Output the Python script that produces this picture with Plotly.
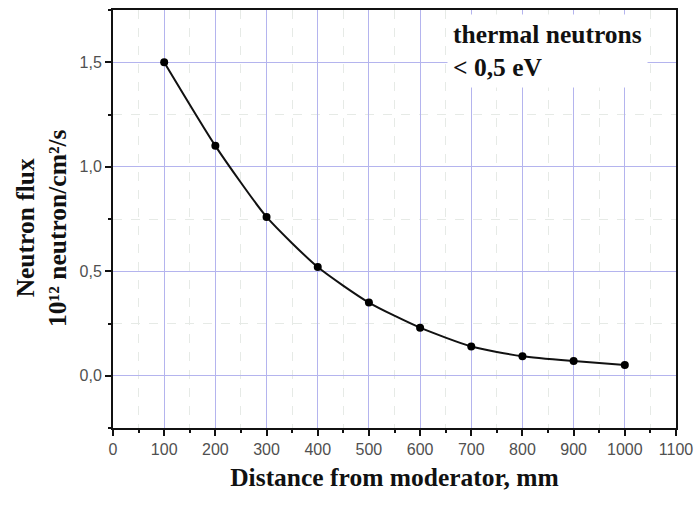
import plotly.graph_objects as go

# Thermal neutron flux versus distance from the moderator
distance_mm = [100, 200, 300, 400, 500, 600, 700, 800, 900, 1000]
flux_1e12 = [1.50, 1.10, 0.76, 0.52, 0.35, 0.23, 0.14, 0.093, 0.07, 0.052]

x_ticks = [0, 100, 200, 300, 400, 500, 600, 700, 800, 900, 1000, 1100]
y_ticks = [0.0, 0.5, 1.0, 1.5]
y_tick_text = ["0,0", "0,5", "1,0", "1,5"]

major_grid = "rgb(180,180,238)"
minor_grid = "rgb(230,234,230)"
serif = "Liberation Serif, Times New Roman, serif"
sans = "Liberation Sans, Arial, sans-serif"
label_size = 25.5

fig = go.Figure()
fig.add_trace(go.Scatter(
    x=distance_mm, y=flux_1e12,
    mode="lines+markers",
    line=dict(color="#111111", width=2, shape="spline", smoothing=0.6),
    marker=dict(color="black", size=8),
    showlegend=False,
))

axis_common = dict(
    automargin=False,
    showline=True, linecolor="#111111", linewidth=2, mirror=True,
    ticks="outside", ticklen=6, tickwidth=2, tickcolor="#111111",
    showgrid=True, gridcolor=major_grid, gridwidth=1,
    zeroline=False,
    tickfont=dict(family=sans, size=16, color="#505050"),
)

fig.update_xaxes(
    range=[0, 1100], tickvals=x_ticks, ticktext=[str(v) for v in x_ticks],
    minor=dict(dtick=50, tick0=0, ticks="outside", ticklen=3, tickwidth=2,
               tickcolor="#111111", showgrid=True, gridcolor=minor_grid,
               griddash="dash", gridwidth=1),
    title=dict(text="<b>Distance from moderator, mm</b>", standoff=11,
               font=dict(family=serif, size=label_size, color="#111111")),
    **axis_common,
)
fig.update_yaxes(
    range=[-0.25, 1.75], tickvals=y_ticks, ticktext=y_tick_text,
    minor=dict(dtick=0.25, tick0=0, ticks="outside", ticklen=3, tickwidth=2,
               tickcolor="#111111", showgrid=True, gridcolor=minor_grid,
               griddash="dash", gridwidth=1),
    **axis_common,
)

# Two-line rotated y-axis label
fig.add_annotation(
    text="<b>Neutron flux</b>", textangle=-90,
    xref="paper", yref="paper", x=-0.156, y=0.478,
    xanchor="center", yanchor="middle", showarrow=False,
    font=dict(family=serif, size=label_size, color="#111111"),
)
fig.add_annotation(
    text="<b>10¹² neutron/cm²/s</b>", textangle=-90,
    xref="paper", yref="paper", x=-0.1, y=0.478,
    xanchor="center", yanchor="middle", showarrow=False,
    font=dict(family=serif, size=label_size, color="#111111"),
)

# Energy range note in the upper-right corner
fig.add_annotation(
    text="<b>thermal neutrons<br>< 0,5 eV</b>", align="left",
    xref="paper", yref="paper", x=0.593, y=0.99,
    xanchor="left", yanchor="top", showarrow=False,
    bgcolor="white", borderpad=5,
    font=dict(family=serif, size=label_size, color="#111111"),
)

fig.update_layout(
    width=697, height=512,
    margin=dict(l=113, r=21, t=10, b=84, autoexpand=False),
    paper_bgcolor="white", plot_bgcolor="white",
)

fig.write_html("out.html")
